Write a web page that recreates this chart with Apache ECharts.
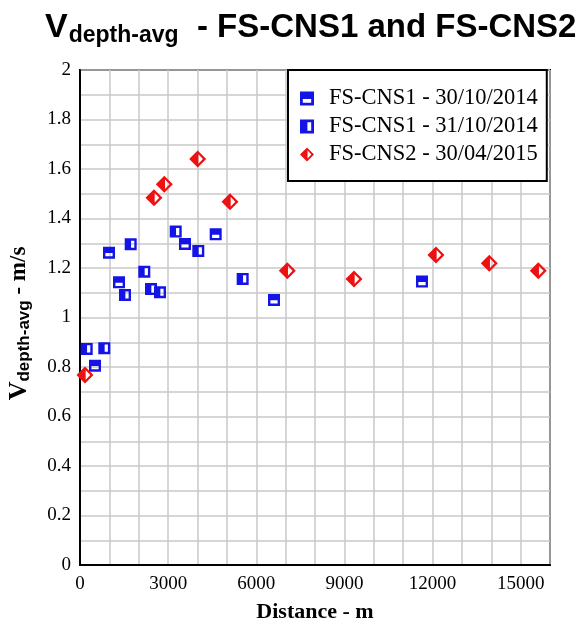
<!DOCTYPE html>
<html>
<head>
<meta charset="utf-8">
<script src="https://cdn.jsdelivr.net/npm/echarts@6/dist/echarts.min.js"></script>
<style>
  html, body { margin: 0; padding: 0; background: #fff; }
  #main { width: 584px; height: 635px; }
</style>
</head>
<body>
<div id="main"></div>
<script>
// data: [distance m, velocity m/s]
var seriesNames = ['FS-CNS1 - 30/10/2014', 'FS-CNS1 - 31/10/2014', 'FS-CNS2 - 30/04/2015'];
var cns1Oct30 = [[511, 0.805], [987, 1.262], [1328, 1.142], [3574, 1.297], [4619, 1.336], [6604, 1.071], [11642, 1.145]];
var cns1Oct31 = [[228, 0.873], [827, 0.876], [1532, 1.091], [1726, 1.296], [2189, 1.185], [2417, 1.115], [2723, 1.102], [3258, 1.347], [4027, 1.269], [5538, 1.156]];
var cns2Apr30 = [[170, 0.768], [2519, 1.484], [2870, 1.538], [4006, 1.640], [5106, 1.468], [7057, 1.189], [9327, 1.156], [12118, 1.253], [13933, 1.219], [15601, 1.189]];
var xTickLabels = ['0', '3000', '6000', '9000', '12000', '15000'];
var yTickLabels = ['0', '0.2', '0.4', '0.6', '0.8', '1', '1.2', '1.4', '1.6', '1.8', '2'];

// marker shapes: outline with part filled (hole drawn with opposite winding)
var symTopFilled = 'path://M0,0H10V10H0Z M2,5.3V8H8V5.3Z';
var symLeftFilled = 'path://M0,0H10V10H0Z M5.3,2V8H8V2Z';
var symDiamond = 'path://M5,0L10,5L5,10L0,5Z M5.4,2.2L5.4,7.8L8.1,5Z';

var myChart = echarts.init(document.getElementById('main'));
var option = {
    backgroundColor: '#fff',
    animation: false,
    title: {
        text: '{v|V}{s|depth-avg}{m|  - FS-CNS1 and FS-CNS2}',
        left: 40,
        top: 3,
        textStyle: {
            rich: {
                v: { fontFamily: 'Liberation Sans', fontWeight: 'bold', fontSize: 34, color: '#000', lineHeight: 40 },
                s: { fontFamily: 'Liberation Sans', fontWeight: 'bold', fontSize: 23, color: '#000', padding: [15, 0, 0, 1], lineHeight: 40 },
                m: { fontFamily: 'Liberation Sans', fontWeight: 'bold', fontSize: 33, color: '#000', lineHeight: 40 }
            }
        }
    },
    legend: {
        data: [
            { name: seriesNames[0], icon: symTopFilled },
            { name: seriesNames[1], icon: symLeftFilled },
            { name: seriesNames[2], icon: symDiamond }
        ],
        orient: 'vertical',
        left: 288,
        top: 70,
        padding: [17, 9, 15, 12],
        itemWidth: 14,
        itemHeight: 14,
        itemGap: 5,
        backgroundColor: '#fff',
        borderColor: '#000',
        borderWidth: 2,
        borderRadius: 0,
        textStyle: {
            fontFamily: 'Liberation Serif',
            fontSize: 22.5,
            color: '#000',
            padding: [0, 0, 0, 10]
        }
    },
    grid: {
        left: 80,
        right: 34,
        top: 70,
        bottom: 70,
        outerBoundsMode: 'none',
        containLabel: false,
        show: true,
        borderColor: '#000',
        borderWidth: 2
    },
    xAxis: {
        type: 'value',
        min: 0,
        max: 16000,
        interval: 1000,
        name: 'Distance - m',
        nameLocation: 'middle',
        nameGap: 36,
        nameTextStyle: {
            fontFamily: 'Liberation Serif',
            fontWeight: 'bold',
            fontSize: 22,
            color: '#000'
        },
        axisLine: { lineStyle: { color: '#000', width: 2 } },
        axisTick: { show: false },
        axisLabel: {
            margin: 10,
            fontFamily: 'Liberation Serif',
            fontSize: 19,
            color: '#000',
            formatter: function (v) {
                return v % 3000 === 0 ? xTickLabels[v / 3000] : '';
            }
        },
        splitLine: { lineStyle: { color: '#c8c8c8', width: 1.5 } }
    },
    yAxis: {
        type: 'value',
        min: 0,
        max: 2,
        interval: 0.1,
        name: '{v|V}{s|depth-avg}{m| - m/s}',
        nameLocation: 'middle',
        nameGap: 46,
        nameTextStyle: {
            padding: [0, 12, 0, 0],
            rich: {
                v: { fontFamily: 'Liberation Serif', fontWeight: 'bold', fontSize: 26, color: '#000', lineHeight: 30 },
                s: { fontFamily: 'Liberation Sans', fontWeight: 'bold', fontSize: 17, color: '#000', padding: [10, 0, 0, 0], lineHeight: 30 },
                m: { fontFamily: 'Liberation Serif', fontWeight: 'bold', fontSize: 23, color: '#000', lineHeight: 30 }
            }
        },
        axisLine: { lineStyle: { color: '#000', width: 2 } },
        axisTick: { show: false },
        axisLabel: {
            margin: 9,
            fontFamily: 'Liberation Serif',
            fontSize: 19,
            color: '#000',
            formatter: function (v) {
                var k = Math.round(v * 10);
                return k % 2 === 0 ? yTickLabels[k / 2] : '';
            }
        },
        splitLine: { lineStyle: { color: '#c8c8c8', width: 1.5 } }
    },
    series: [
        {
            name: seriesNames[0],
            type: 'scatter',
            symbol: symTopFilled,
            symbolSize: 12,
            itemStyle: { color: '#1414e6', opacity: 1 },
            data: cns1Oct30
        },
        {
            name: seriesNames[1],
            type: 'scatter',
            symbol: symLeftFilled,
            symbolSize: 12,
            itemStyle: { color: '#1414e6', opacity: 1 },
            data: cns1Oct31
        },
        {
            name: seriesNames[2],
            type: 'scatter',
            symbol: symDiamond,
            symbolSize: 17,
            itemStyle: { color: '#ee1111', opacity: 1 },
            data: cns2Apr30
        }
    ]
};
myChart.setOption(option);
</script>
</body>
</html>
